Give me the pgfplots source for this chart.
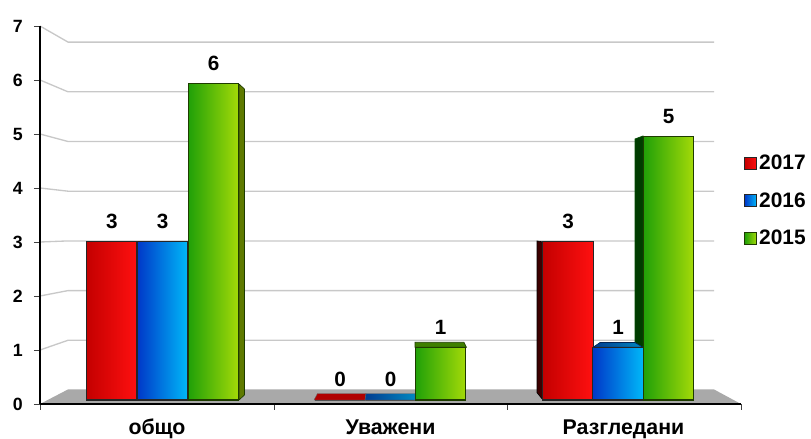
\documentclass[border=0pt]{standalone}
\usepackage{fontspec}
\setmainfont{Liberation Sans}
\usepackage{pgfplots}
\pgfplotsset{compat=1.18}
\definecolor{gridc}{HTML}{C8C8C8}
\definecolor{floorc}{HTML}{A9A9A9}
\definecolor{rA}{HTML}{C40000}\definecolor{rB}{HTML}{E80808}\definecolor{rC}{HTML}{FF1010}
\definecolor{bA}{HTML}{0038C8}\definecolor{bB}{HTML}{0898E8}\definecolor{bC}{HTML}{00B8F8}
\definecolor{gA}{HTML}{20A008}\definecolor{gB}{HTML}{68BC08}\definecolor{gC}{HTML}{A4DA08}
\definecolor{edgeG}{HTML}{1E3C00}
\definecolor{sideG}{HTML}{5F7A00}\definecolor{sideGd}{HTML}{003C00}\definecolor{sideR}{HTML}{3C0000}
\definecolor{topG}{HTML}{3F7F00}\definecolor{topR}{HTML}{B00000}
\definecolor{topBa}{HTML}{003C90}\definecolor{topBb}{HTML}{0088C0}
\pgfplotsset{
  base/.style={scale only axis,width=525.75pt,height=283.5pt,at={(30pt,26.25pt)},anchor=south west,xmin=40,xmax=741,clip=false},
  swatch/.style={legend image code/.code={\draw[##1] (0pt,-4.5pt) rectangle (9pt,4.5pt);\path (10.5pt,0pt);}},
  barbase/.style={ybar,swatch,bar width=50.5,bar shift=0pt,line width=.8pt},
  rbar/.style={barbase,draw=black!85,left color=rA,middle color=rB,right color=rC},
  bbar/.style={barbase,draw=black!85,left color=bA,middle color=bB,right color=bC},
  gbar/.style={barbase,draw=edgeG,left color=gA,middle color=gB,right color=gC},
  face/.style={forget plot,line width=.5pt,nodes near coords={}},
}
\begin{document}
\begin{tikzpicture}
\useasboundingbox (0,0) rectangle (608.25pt,329.25pt);
% frame: value axis, floor and back grid
\begin{axis}[base,ymin=0,ymax=7,
  axis x line*=bottom,axis y line*=left,axis on top,
  axis line style={black,line width=0.9pt},
  tick align=outside,tick style={black!75,line width=0.7pt},major tick length=4.5pt,
  ytick={0,1,2,3,4,5,6,7},
  xtick={40,274,507,741},xticklabels={},
  extra x ticks={157,390.5,623.5},
  extra x tick labels={общо,Уважени,Разгледани},
  extra x tick style={major tick length=0pt,
    xticklabel style={font=\fontsize{16}{16}\bfseries,yshift=-9.5pt,text height=10pt,anchor=north}},
  /pgf/number format/assume math mode=true,
  yticklabel style={font=\fontsize{13.3}{15}\bfseries,xshift=-5pt},
]
\addplot[fill=floorc,draw=none] coordinates {(40,0)(68,0.27)(714,0.27)(741,0)} --cycle;
\addplot[gridc,line width=1pt] coordinates {(40,1)(68,1.180)(714,1.180)};
\addplot[gridc,line width=1pt] coordinates {(40,2)(68,2.100)(714,2.100)};
\addplot[gridc,line width=1pt] coordinates {(40,3)(68,3.020)(714,3.020)};
\addplot[gridc,line width=1pt] coordinates {(40,4)(68,3.941)(714,3.941)};
\addplot[gridc,line width=1pt] coordinates {(40,5)(68,4.861)(714,4.861)};
\addplot[gridc,line width=1pt] coordinates {(40,6)(68,5.781)(714,5.781)};
\addplot[gridc,line width=1pt] coordinates {(40,7)(68,6.702)(714,6.702)};
\end{axis}
% bars: their own depth scale
\begin{axis}[base,ymin=-0.0759,ymax=7.0968,hide axis,
  legend style={at={(1.004,0.659)},anchor=north west,draw=none,fill=none,inner sep=0pt,
    font=\fontsize{15.7}{15.7}\bfseries,row sep=15.6pt,
    nodes={inner sep=0pt}},
  legend cell align=left,
  nodes near coords={\pgfmathprintnumber[assume math mode=true]{\pgfplotspointmeta}},
  nodes near coords style={font=\fontsize{15.5}{16}\bfseries,inner sep=0pt,yshift=9.5pt,black,anchor=south},
]
% side and top faces
\addplot[face,fill=sideG,draw=edgeG] coordinates {(239,5.996)(244.5,5.901)(244.5,0.095)(239,0)} --cycle;
\addplot[face,fill=sideR,draw=black] coordinates {(537,3.017)(543,3)(543,0)(537,0.14)} --cycle;
\addplot[face,fill=sideGd,draw=black!70!green] coordinates {(635,4.953)(643,5.01)(643,1)(635,1.09)} --cycle;
\addplot[face,left color=topBa,right color=topBb,draw=topBa!60!black] coordinates {(593,1)(600,1.09)(635,1.09)(643,1)} --cycle;
\addplot[face,fill=topG,draw=edgeG] coordinates {(415,1)(415,1.095)(464,1.095)(466.5,1)} --cycle;
\addplot[face,fill=topR,draw=black!60,line width=.3pt] coordinates {(314,0)(317.5,0.123)(366,0.123)(365,0)} --cycle;
\addplot[face,left color=topBa,right color=topBb,draw=black!60,line width=.3pt] coordinates {(365,0)(366,0.123)(415,0.123)(415,0)} --cycle;
% front faces, one plot for each bar so that each has its own gradient
\addplot[rbar] coordinates {(111.75,3)};
\addplot[bbar] coordinates {(162.5,3)};
\addplot[gbar] coordinates {(213.5,6)};
\addplot[barbase,forget plot,draw=black!85,line width=.4pt,fill=topR] coordinates {(340,0)};
\addplot[barbase,forget plot,draw=black!85,line width=.4pt,fill=topBa] coordinates {(390.5,0)};
\addplot[gbar,forget plot] coordinates {(440.5,1)};
\addplot[rbar,forget plot] coordinates {(568,3)};
\addplot[bbar,forget plot] coordinates {(618,1)};
\addplot[gbar,forget plot] coordinates {(668.5,5)};
\legend{2017,2016,2015}
\end{axis}
\end{tikzpicture}
\end{document}
